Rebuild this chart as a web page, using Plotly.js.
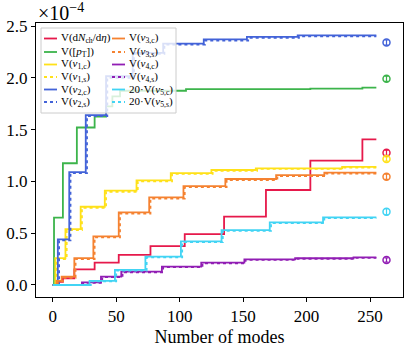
<!DOCTYPE html>
<html>
<head>
<meta charset="utf-8">
<script src="https://cdn.plot.ly/plotly-3.0.1.min.js"></script>
<style>html,body{margin:0;padding:0;background:#fff;}#chart{width:411px;height:349px;}</style>
</head>
<body>
<div id="chart"></div>
<script>
// Values in units of 1e-4
const modesDN = [0, 4, 8, 17, 33, 52, 77, 104, 135, 168, 203, 244, 255];
const valsDN  = [0, 0.03, 0.065, 0.15, 0.215, 0.29, 0.376, 0.49, 0.66, 0.917, 1.20, 1.406, 1.406];

const modesPT = [0, 1, 8, 19, 33, 42, 47, 53, 105, 203, 244, 255];
const valsPT  = [0, 0.65, 1.175, 1.52, 1.625, 1.725, 1.82, 1.875, 1.89, 1.895, 1.905, 1.905];

const modesV1c = [0, 2, 10, 22, 41, 66, 93, 125, 160, 228, 255];
const valsV1c  = [0, 0.26, 0.54, 0.755, 0.91, 1.01, 1.08, 1.11, 1.126, 1.14, 1.14];
const modesV1s = [0, 3, 11, 23, 42, 67, 94, 126, 161, 229, 255];
const valsV1s  = [0, 0.25, 0.53, 0.745, 0.9, 1.0, 1.072, 1.102, 1.12, 1.134, 1.134];

const modesV2c = [0, 4, 13, 26, 42, 63, 87, 119, 153, 193, 255];
const valsV2c  = [0, 0.44, 1.09, 1.64, 2.015, 2.24, 2.33, 2.37, 2.395, 2.41, 2.41];
const modesV2s = [0, 5, 14, 27, 43, 64, 88, 120, 154, 194, 255];
const valsV2s  = [0, 0.43, 1.08, 1.63, 2.0, 2.23, 2.32, 2.36, 2.385, 2.40, 2.40];

const modesV3c = [0, 3, 7, 17, 32, 52, 76, 103, 136, 176, 214, 255];
const valsV3c  = [0, 0.04, 0.08, 0.26, 0.47, 0.70, 0.845, 0.955, 1.023, 1.06, 1.084, 1.084];
const modesV3s = [0, 4, 8, 18, 33, 53, 77, 104, 137, 177, 215, 255];
const valsV3s  = [0, 0.035, 0.07, 0.25, 0.46, 0.69, 0.835, 0.945, 1.013, 1.05, 1.076, 1.076];

const modesV4c = [0, 23, 38, 54, 86, 117, 151, 191, 237, 255];
const valsV4c  = [0, 0.025, 0.08, 0.128, 0.177, 0.215, 0.248, 0.258, 0.267, 0.267];
const modesV4s = [0, 24, 39, 55, 87, 118, 152, 192, 238, 255];
const valsV4s  = [0, 0.02, 0.075, 0.123, 0.172, 0.21, 0.243, 0.253, 0.262, 0.262];

const modesV5c = [0, 29, 49, 73, 101, 133, 171, 213, 255];
const valsV5c  = [0, 0.04, 0.145, 0.273, 0.42, 0.53, 0.605, 0.653, 0.653];
const modesV5s = [0, 30, 50, 74, 102, 134, 172, 214, 255];
const valsV5s  = [0, 0.035, 0.14, 0.266, 0.413, 0.522, 0.598, 0.646, 0.646];

// Reference points at the right
const refMode = 263;
const refVals = [1.277, 1.99, 1.216, 2.34, 1.045, 0.241, 0.707];
const refErr  = [0.025, 0.025, 0.02, 0.025, 0.025, 0.02, 0.03];

const colors = ['#e6194b', '#3cb44b', '#ffe119', '#4363d8', '#f58231', '#911eb4', '#42d4f4'];

const series = [
  {x: modesDN, y: valsDN, name: 'V(d<i>N</i><sub>ch</sub>/d<i>η</i>)', c: 0, dash: 'solid'},
  {x: modesPT, y: valsPT, name: 'V([<i>p</i><sub>T</sub>])', c: 1, dash: 'solid'},
  {x: modesV1c, y: valsV1c, name: 'V(<i>v</i><sub>1,c</sub>)', c: 2, dash: 'solid'},
  {x: modesV1s, y: valsV1s, name: 'V(<i>v</i><sub>1,s</sub>)', c: 2, dash: 'dot'},
  {x: modesV2c, y: valsV2c, name: 'V(<i>v</i><sub>2,c</sub>)', c: 3, dash: 'solid'},
  {x: modesV2s, y: valsV2s, name: 'V(<i>v</i><sub>2,s</sub>)', c: 3, dash: 'dot'},
  {x: modesV3c, y: valsV3c, name: 'V(<i>v</i><sub>3,c</sub>)', c: 4, dash: 'solid'},
  {x: modesV3s, y: valsV3s, name: 'V(<i>v</i><sub>3,s</sub>)', c: 4, dash: 'dot'},
  {x: modesV4c, y: valsV4c, name: 'V(<i>v</i><sub>4,c</sub>)', c: 5, dash: 'solid'},
  {x: modesV4s, y: valsV4s, name: 'V(<i>v</i><sub>4,s</sub>)', c: 5, dash: 'dot'},
  {x: modesV5c, y: valsV5c, name: '20·V(<i>v</i><sub>5,c</sub>)', c: 6, dash: 'solid'},
  {x: modesV5s, y: valsV5s, name: '20·V(<i>v</i><sub>5,s</sub>)', c: 6, dash: 'dot'}
];

const traces = series.map(s => ({
  type: 'scatter', mode: 'lines', x: s.x, y: s.y, name: s.name, showlegend: false,
  line: {shape: 'hv', color: colors[s.c], width: 1.8, dash: s.dash},
  hoverinfo: 'skip'
}));

refVals.forEach((v, i) => {
  traces.push({
    type: 'scatter', mode: 'markers', x: [refMode], y: [v], showlegend: false,
    marker: {symbol: 'circle-open', size: 7, color: colors[i], line: {width: 1.5, color: colors[i]}},
    error_y: {type: 'data', array: [refErr[i]], visible: true, color: colors[i], thickness: 1.2, width: 2},
    hoverinfo: 'skip'
  });
});

// Plot area in pixels (for the in-axes legend box)
const M = {l: 36, r: 8, t: 23, b: 52};
const W = 411, H = 349;
const pw = W - M.l - M.r, ph = H - M.t - M.b;
const px = x => (x - M.l) / pw;
const py = y => (H - M.b - y) / ph;

const fontFam = 'Liberation Serif, serif';

const shapes = [{
  type: 'rect', xref: 'paper', yref: 'paper', layer: 'above',
  x0: px(41), x1: px(176), y0: py(113), y1: py(28),
  fillcolor: 'rgba(255,255,255,0.8)', line: {color: '#cccccc', width: 1}
}];
const annotations = [{
  text: '×10<sup>−4</sup>', xref: 'paper', yref: 'paper', x: 0, y: 1.0,
  xanchor: 'left', yanchor: 'bottom', showarrow: false, yshift: -3,
  font: {family: fontFam, size: 20, color: '#000'}
}];
const rowY = [38.5, 52, 64.5, 77, 89.5, 102];
series.forEach((s, i) => {
  const col = Math.floor(i / 6), row = i % 6;
  const x0 = col === 0 ? 44 : 112;
  const yy = rowY[row];
  shapes.push({
    type: 'line', xref: 'paper', yref: 'paper', layer: 'above',
    x0: px(x0), x1: px(x0 + 13), y0: py(yy), y1: py(yy),
    line: {color: colors[s.c], width: 1.8, dash: s.dash}
  });
  annotations.push({
    text: s.name, xref: 'paper', yref: 'paper', x: px(x0 + 15), y: py(yy),
    xanchor: 'left', yanchor: 'middle', showarrow: false,
    font: {family: fontFam, size: 11, color: '#000'}
  });
});

const layout = {
  width: W, height: H,
  margin: M,
  paper_bgcolor: '#fff', plot_bgcolor: '#fff',
  font: {family: fontFam, color: '#000', size: 16},
  showlegend: false,
  xaxis: {
    range: [-13.2, 276], tickvals: [0, 50, 100, 150, 200, 250],
    ticktext: ['0', '50', '100', '150', '200', '250'],
    ticks: 'outside', ticklen: 4, tickwidth: 1, tickcolor: '#000',
    showline: true, linecolor: '#000', linewidth: 1, mirror: true,
    showgrid: false, zeroline: false,
    tickfont: {family: fontFam, size: 17},
    title: {text: 'Number of modes', font: {family: fontFam, size: 18}, standoff: 4}
  },
  yaxis: {
    range: [-0.116, 2.529], tickvals: [0, 0.5, 1, 1.5, 2, 2.5],
    ticktext: ['0.0', '0.5', '1.0', '1.5', '2.0', '2.5'],
    ticks: 'outside', ticklen: 4, tickwidth: 1, tickcolor: '#000',
    showline: true, linecolor: '#000', linewidth: 1, mirror: true,
    showgrid: false, zeroline: false,
    tickfont: {family: fontFam, size: 17}
  },
  shapes: shapes,
  annotations: annotations
};

Plotly.newPlot('chart', traces, layout, {displayModeBar: false, staticPlot: true});
</script>
</body>
</html>
